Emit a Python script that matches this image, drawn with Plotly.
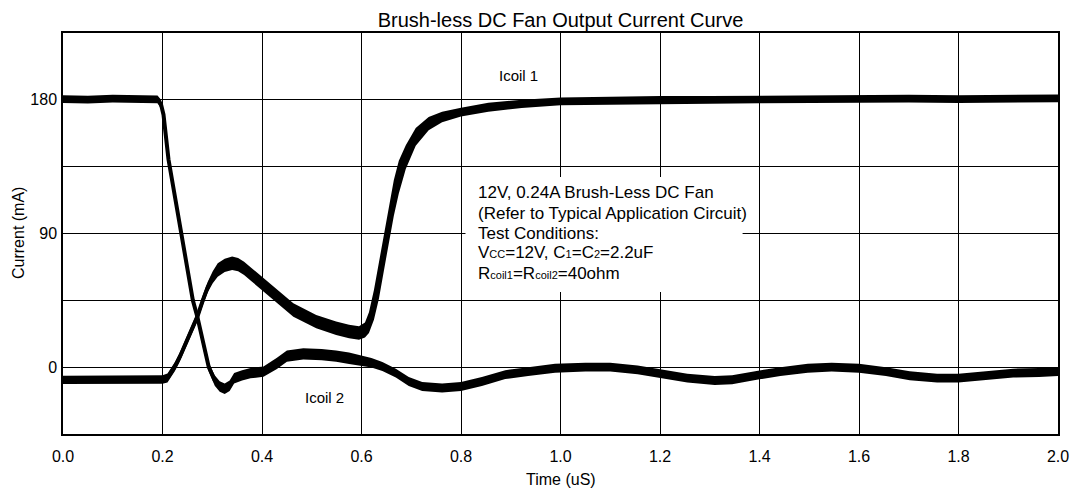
import plotly.graph_objects as go


# Icoil 1: rises from about -8 mA to 180 mA
icoil1_t = [0.0, 0.05, 0.1, 0.15, 0.2, 0.21, 0.217, 0.225, 0.235, 0.244, 0.257,
            0.27, 0.281, 0.291, 0.301, 0.311, 0.325, 0.34, 0.352, 0.364, 0.38,
            0.4, 0.43, 0.463, 0.509, 0.549, 0.575, 0.595, 0.607, 0.615, 0.625,
            0.635, 0.645, 0.655, 0.665, 0.675, 0.689, 0.709, 0.735, 0.762, 0.8,
            0.855, 0.922, 1.0, 1.1, 1.2, 1.3, 1.4, 1.5, 1.6, 1.7, 1.8, 1.9, 2.0]
icoil1_ma = [-8.5, -8.5, -8.0, -8.5, -8.3, -7.3, -4, 0.4, 7, 14, 24,
             34, 45, 54, 60.5, 65.4, 68.5, 70, 69, 66.5, 62,
             56.4, 47.5, 38.5, 30.7, 26.2, 24, 23, 25, 30, 42,
             58, 77, 96, 114, 128, 141.5, 155, 164, 168.4, 171.7,
             175, 177.3, 179, 179.5, 180, 180, 180.3, 180.5, 180.5, 180.8, 180.5, 180.8, 181]
# half height of the noisy trace band (mA)
icoil1_noise = [2.8, 2.8, 2.8, 2.8, 2.8, 3, 3, 3, 3, 3, 3,
                3, 3.5, 3.5, 4, 4.5, 4.5, 4.5, 4.5, 4.5, 4.5,
                4.5, 4.5, 4.5, 4.5, 4.5, 4.5, 4.5, 5, 7, 10,
                12, 12, 12, 12, 11, 8, 6, 4.5, 3.5, 3,
                3, 2.8, 2.6, 2.6, 2.6, 2.6, 2.6, 2.6, 2.6, 2.6, 2.6, 2.6, 2.6]

# Icoil 2: falls from 180 mA to about 0 mA
icoil2_t = [0.0, 0.05, 0.1, 0.15, 0.19, 0.197, 0.202, 0.212, 0.225, 0.238, 0.25,
            0.261, 0.27, 0.282, 0.293, 0.305, 0.315, 0.325, 0.335, 0.344, 0.36,
            0.377, 0.403, 0.43, 0.45, 0.483, 0.52, 0.549, 0.575, 0.6, 0.62,
            0.642, 0.669, 0.695, 0.722, 0.762, 0.8, 0.842, 0.889, 0.935, 0.989,
            1.05, 1.1, 1.155, 1.2, 1.255, 1.31, 1.345, 1.4, 1.442, 1.497,
            1.545, 1.6, 1.654, 1.702, 1.757, 1.8, 1.854, 1.91, 1.962, 2.0]
icoil2_ma = [180.5, 180.2, 180.8, 180.3, 180.3, 177, 170, 140, 115, 90, 67,
             45, 34, 15, 0, -9, -13, -14.5, -12.5, -7.5, -5.5,
             -4, -3, 2.5, 7.5, 9, 8.5, 7.5, 6, 4.5, 3,
             0.4, -4, -9.6, -13, -14, -13, -9.6, -5, -3, -0.7,
             0, 0, -1.8, -4.5, -7.4, -9, -8.5, -5.2, -3, -0.7,
             0, -0.7, -3, -5.8, -7.4, -7.4, -5.8, -4, -3.6, -3]
icoil2_noise = [2.6, 2.6, 2.6, 2.6, 2.6, 3, 3, 3, 3, 3, 3,
                3, 3, 3, 3, 3.5, 3.5, 3.5, 3.5, 3.5, 3.5,
                3.5, 3.5, 3.8, 3.8, 3.8, 3.8, 3.8, 3.8, 3.5, 3.2,
                3, 3, 3, 3, 3, 3, 3, 3, 3, 3,
                3, 3, 3, 3, 3, 3, 3, 3, 3, 3,
                3, 3, 3, 3, 3, 3, 3, 3, 3, 3]

y_ticks = [0, 90, 180]

small = '<span style="font-size:11px">'
note_lines = [
    '12V, 0.24A Brush-Less DC Fan',
    '(Refer to Typical Application Circuit)',
    'Test Conditions:',
    'V' + small + 'CC</span>=12V, C' + small + '1</span>=C' + small + '2</span>=2.2uF',
    'R' + small + 'coil1</span>=R' + small + 'coil2</span>=40ohm',
]
note_y = [117.3, 103.8, 90.3, 76.9, 63.4]

FONT = 'Liberation Sans, Arial, sans-serif'


def _band(fig, t, ma, noise):
    lower = [m - n for m, n in zip(ma, noise)]
    upper = [m + n for m, n in zip(ma, noise)]
    fig.add_trace(go.Scatter(x=t, y=lower, mode='lines',
                             line=dict(width=0, color='black'),
                             hoverinfo='skip', showlegend=False))
    fig.add_trace(go.Scatter(x=t, y=upper, mode='lines', fill='tonexty',
                             fillcolor='black', line=dict(width=0, color='black'),
                             hoverinfo='skip', showlegend=False))
    fig.add_trace(go.Scatter(x=t, y=ma, mode='lines',
                             line=dict(width=4, color='black'),
                             hoverinfo='skip', showlegend=False))


fig = go.Figure()
_band(fig, icoil1_t, icoil1_ma, icoil1_noise)
_band(fig, icoil2_t, icoil2_ma, icoil2_noise)

# white panel behind the test conditions text
fig.add_shape(type='rect', xref='x', yref='y', x0=0.809, x1=1.366, y0=50.6, y1=128.0,
              fillcolor='white', line=dict(width=0), layer='above')

for line, yv in zip(note_lines, note_y):
    fig.add_annotation(x=0.831, y=yv, xref='x', yref='y', text=line, showarrow=False,
                       xanchor='left', yanchor='middle', align='left',
                       font=dict(family=FONT, size=17, color='black'))

fig.add_annotation(x=0.915, y=196.7, xref='x', yref='y', text='Icoil 1', showarrow=False,
                   font=dict(family=FONT, size=15, color='black'))
fig.add_annotation(x=0.525, y=-20.1, xref='x', yref='y', text='Icoil 2', showarrow=False,
                   font=dict(family=FONT, size=15, color='black'))
fig.add_annotation(x=0.5, y=-0.1147, xref='paper', yref='paper', text='Time (uS)',
                   showarrow=False, yanchor='middle',
                   font=dict(family=FONT, size=16, color='black'))
fig.add_annotation(x=-0.0447, y=0.5, xref='paper', yref='paper', text='Current (mA)',
                   showarrow=False, textangle=-90, xanchor='center',
                   font=dict(family=FONT, size=16, color='black'))

# the page body has an 8px margin, so the figure is 8px smaller than the window
fig.update_layout(
    width=1073,
    height=485,
    margin=dict(l=55, r=12, t=25, b=59),
    paper_bgcolor='white',
    plot_bgcolor='white',
    showlegend=False,
    hovermode=False,
    font=dict(family=FONT, size=16, color='black'),
    title=dict(text='Brush-less DC Fan Output Current Curve', x=0.5, xref='paper',
               y=1 - 12 / 485, yanchor='middle',
               font=dict(family=FONT, size=20, color='black')),
)

fig.update_xaxes(
    range=[0, 2], dtick=0.2, tick0=0, tickformat='.1f',
    showgrid=True, gridcolor='black', gridwidth=1, zeroline=False,
    showline=True, mirror=True, linecolor='black', linewidth=1.5,
    ticks='', ticklabelstandoff=7,
    tickfont=dict(family=FONT, size=16, color='black'),
)
fig.update_yaxes(
    range=[-45, 225], tickvals=y_ticks,
    showgrid=True, gridcolor='black', gridwidth=1, zeroline=False,
    minor=dict(dtick=45, tick0=0, showgrid=True, gridcolor='black', gridwidth=1),
    showline=True, mirror=True, linecolor='black', linewidth=1.5,
    ticks='', ticklabelstandoff=1,
    tickfont=dict(family=FONT, size=16, color='black'),
)

fig.write_html('out.html')
